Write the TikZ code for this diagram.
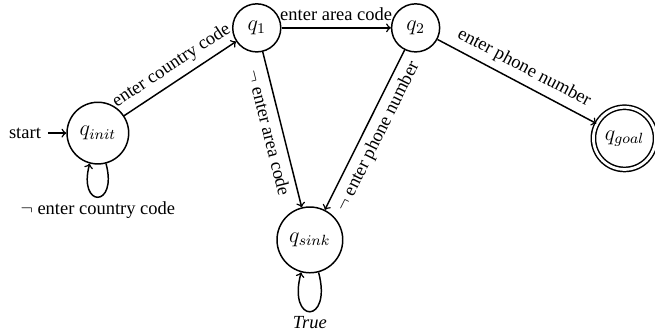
\documentclass[tikz,border=0pt]{standalone}
\usepackage{fontspec}
\setmainfont{Liberation Serif}
\usetikzlibrary{positioning}

\begin{document}
\begin{tikzpicture}[thick,
  stnode/.style={circle, draw, minimum size=26pt, inner sep=4.6pt, font=\large},
  goalnode/.style={stnode, inner sep=4pt, double, double distance=1.5pt},
  selfloop/.style={out=-75, in=-105},
  looplbl/.style={below, inner sep=2pt}]
  % Moldura
  \useasboundingbox (0,0) rectangle (12.45,6.27);
  % Estados
  \node[stnode] (qinit) at (1.86,3.74) {$q_{init}$};
  \node[stnode] (q1) at (4.88,5.74) {$q_1$};
  \node[stnode] (q2) at (7.90,5.74) {$q_2$};
  \node[goalnode] (qgoal) at (11.87,3.64) {$q_{goal}$};
  \node[stnode] (qsink) at (5.89,1.71) {$q_{sink}$};
  % Estado inicial
  \node[left=10pt of qinit] (start) {start};
  \draw[->] (start) -- (qinit);
  % Transicoes
  \draw[->] (qinit) -- node[auto, sloped] {enter country code} (q1);
  \draw[->] (q1) -- node[auto] {enter area code} (q2);
  \draw[->] (q2) -- node[auto, sloped] {enter phone number} (qgoal);
  \draw[->] (q1) -- node[auto, swap, sloped] {$\neg$ enter area code} (qsink);
  \draw[->] (q2) -- node[auto, swap, sloped] {$\neg$ enter phone number} (qsink);
  % Lacos
  \draw[->] (qinit) to[selfloop, min distance=8.8mm] node[looplbl] {$\neg$ enter country code} (qinit);
  \draw[->] (qsink) to[selfloop, min distance=10.3mm] node[looplbl] {\textit{True}} (qsink);
\end{tikzpicture}
\end{document}
